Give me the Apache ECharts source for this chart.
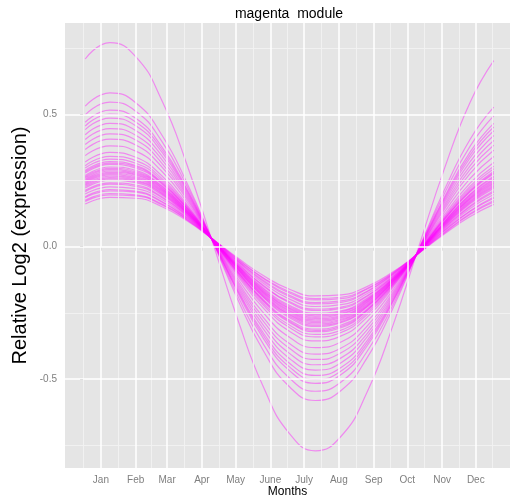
<!DOCTYPE html>
<html>
<head>
<meta charset="utf-8">
<title>magenta module</title>
<script src="https://cdn.jsdelivr.net/npm/echarts@6/dist/echarts.min.js"></script>
<style>
  html, body { margin: 0; padding: 0; background: #fff; }
  #chart { width: 511px; height: 497px; }
</style>
</head>
<body>
<div id="chart"></div>
<script>
const sampleDays = [1, 23, 46, 69, 92, 115, 137, 160, 183, 206, 229, 252, 275, 298, 321, 344, 365];

// axis breaks (mid-month) and their labels
const monthDays = [15, 46, 74, 105, 135, 166, 196, 227, 258, 288, 319, 349];
const monthLabels = ['Jan', 'Feb', 'Mar', 'Apr', 'May', 'June', 'July', 'Aug', 'Sep', 'Oct', 'Nov', 'Dec'];
const minorDays = [-0.5, 30.5, 60, 89.5, 120, 150.5, 181, 211.5, 242.5, 273, 303.5, 334, 364];
const yTicks = [-0.5, 0, 0.5];
const yMinor = [-0.75, -0.25, 0.25, 0.75];

// relative log2 expression of each gene in the module, one row per gene
const genes = [
  [0.709, 0.771, 0.718, 0.555, 0.306, 0.010, -0.276, -0.532, -0.706, -0.771, -0.716, -0.551, -0.300, -0.003, 0.294, 0.546, 0.703],
  [0.531, 0.581, 0.544, 0.424, 0.238, 0.016, -0.200, -0.395, -0.529, -0.581, -0.543, -0.421, -0.234, -0.011, 0.214, 0.406, 0.527],
  [0.498, 0.546, 0.512, 0.400, 0.226, 0.017, -0.186, -0.370, -0.496, -0.546, -0.511, -0.397, -0.222, -0.012, 0.200, 0.380, 0.494],
  [0.470, 0.516, 0.485, 0.379, 0.215, 0.018, -0.174, -0.348, -0.468, -0.516, -0.483, -0.376, -0.211, -0.013, 0.187, 0.358, 0.466],
  [0.456, 0.501, 0.471, 0.369, 0.210, 0.018, -0.168, -0.337, -0.454, -0.501, -0.470, -0.366, -0.206, -0.014, 0.181, 0.347, 0.452],
  [0.442, 0.486, 0.457, 0.359, 0.204, 0.018, -0.163, -0.327, -0.440, -0.486, -0.456, -0.356, -0.201, -0.014, 0.174, 0.336, 0.438],
  [0.423, 0.466, 0.439, 0.345, 0.197, 0.019, -0.155, -0.312, -0.422, -0.466, -0.438, -0.342, -0.194, -0.015, 0.166, 0.321, 0.420],
  [0.405, 0.446, 0.421, 0.331, 0.190, 0.020, -0.147, -0.298, -0.403, -0.446, -0.420, -0.329, -0.187, -0.016, 0.157, 0.306, 0.401],
  [0.386, 0.426, 0.403, 0.317, 0.183, 0.020, -0.139, -0.283, -0.384, -0.426, -0.401, -0.315, -0.180, -0.017, 0.149, 0.292, 0.383],
  [0.367, 0.406, 0.384, 0.303, 0.176, 0.021, -0.131, -0.269, -0.366, -0.406, -0.383, -0.301, -0.173, -0.017, 0.141, 0.277, 0.364],
  [0.344, 0.381, 0.361, 0.286, 0.167, 0.022, -0.121, -0.251, -0.342, -0.381, -0.360, -0.284, -0.164, -0.018, 0.130, 0.258, 0.341],
  [0.320, 0.356, 0.338, 0.269, 0.158, 0.022, -0.111, -0.233, -0.319, -0.356, -0.337, -0.267, -0.155, -0.019, 0.120, 0.240, 0.318],
  [0.306, 0.341, 0.325, 0.259, 0.152, 0.023, -0.105, -0.222, -0.305, -0.341, -0.324, -0.257, -0.150, -0.020, 0.113, 0.229, 0.304],
  [0.297, 0.331, 0.315, 0.252, 0.149, 0.023, -0.101, -0.215, -0.296, -0.331, -0.315, -0.250, -0.146, -0.020, 0.109, 0.221, 0.294],
  [0.288, 0.321, 0.306, 0.245, 0.145, 0.023, -0.097, -0.208, -0.286, -0.321, -0.306, -0.243, -0.143, -0.021, 0.105, 0.214, 0.285],
  [0.283, 0.316, 0.302, 0.241, 0.144, 0.024, -0.095, -0.204, -0.282, -0.316, -0.301, -0.240, -0.141, -0.021, 0.103, 0.210, 0.280],
  [0.278, 0.311, 0.297, 0.238, 0.142, 0.024, -0.093, -0.201, -0.277, -0.311, -0.296, -0.236, -0.139, -0.021, 0.101, 0.207, 0.276],
  [0.269, 0.301, 0.288, 0.231, 0.138, 0.024, -0.089, -0.193, -0.268, -0.301, -0.287, -0.229, -0.136, -0.021, 0.096, 0.199, 0.267],
  [0.264, 0.296, 0.283, 0.228, 0.136, 0.024, -0.087, -0.190, -0.263, -0.296, -0.283, -0.226, -0.134, -0.022, 0.094, 0.196, 0.262],
  [0.260, 0.291, 0.279, 0.224, 0.135, 0.024, -0.085, -0.186, -0.258, -0.291, -0.278, -0.223, -0.132, -0.022, 0.092, 0.192, 0.257],
  [0.255, 0.286, 0.274, 0.221, 0.133, 0.024, -0.083, -0.183, -0.254, -0.286, -0.274, -0.219, -0.131, -0.022, 0.090, 0.188, 0.253],
  [0.250, 0.281, 0.270, 0.217, 0.131, 0.025, -0.081, -0.179, -0.249, -0.281, -0.269, -0.216, -0.129, -0.022, 0.088, 0.184, 0.248],
  [0.246, 0.276, 0.265, 0.214, 0.129, 0.025, -0.079, -0.175, -0.244, -0.276, -0.264, -0.212, -0.127, -0.022, 0.086, 0.181, 0.243],
  [0.241, 0.271, 0.261, 0.210, 0.127, 0.025, -0.077, -0.172, -0.240, -0.271, -0.260, -0.209, -0.125, -0.023, 0.084, 0.177, 0.239],
  [0.236, 0.266, 0.256, 0.207, 0.126, 0.025, -0.075, -0.168, -0.235, -0.266, -0.255, -0.205, -0.124, -0.023, 0.082, 0.173, 0.234],
  [0.232, 0.261, 0.251, 0.203, 0.124, 0.025, -0.073, -0.165, -0.231, -0.261, -0.251, -0.202, -0.122, -0.023, 0.080, 0.170, 0.229],
  [0.227, 0.256, 0.247, 0.200, 0.122, 0.025, -0.071, -0.161, -0.226, -0.256, -0.246, -0.199, -0.120, -0.023, 0.077, 0.166, 0.225],
  [0.222, 0.251, 0.242, 0.196, 0.120, 0.026, -0.069, -0.157, -0.221, -0.251, -0.242, -0.195, -0.118, -0.023, 0.075, 0.162, 0.220],
  [0.213, 0.241, 0.233, 0.190, 0.117, 0.026, -0.065, -0.150, -0.212, -0.241, -0.233, -0.188, -0.115, -0.024, 0.071, 0.155, 0.211],
  [0.208, 0.236, 0.228, 0.186, 0.115, 0.026, -0.063, -0.147, -0.207, -0.236, -0.228, -0.185, -0.113, -0.024, 0.069, 0.151, 0.206],
  [0.199, 0.226, 0.219, 0.179, 0.111, 0.026, -0.059, -0.139, -0.198, -0.226, -0.219, -0.178, -0.110, -0.024, 0.065, 0.144, 0.197],
  [0.189, 0.216, 0.210, 0.172, 0.108, 0.027, -0.055, -0.132, -0.189, -0.216, -0.210, -0.171, -0.106, -0.025, 0.061, 0.136, 0.188],
  [0.185, 0.211, 0.206, 0.169, 0.106, 0.027, -0.053, -0.128, -0.184, -0.211, -0.205, -0.168, -0.104, -0.025, 0.059, 0.133, 0.183],
  [0.175, 0.201, 0.196, 0.162, 0.102, 0.027, -0.049, -0.121, -0.175, -0.201, -0.196, -0.161, -0.101, -0.025, 0.054, 0.125, 0.174],
  [0.171, 0.196, 0.192, 0.159, 0.101, 0.027, -0.047, -0.118, -0.170, -0.196, -0.191, -0.158, -0.099, -0.025, 0.052, 0.122, 0.169],
  [0.161, 0.186, 0.183, 0.152, 0.097, 0.027, -0.043, -0.110, -0.161, -0.186, -0.182, -0.151, -0.096, -0.026, 0.048, 0.114, 0.160]
];

const FONT = 'Liberation Sans, Arial, sans-serif';
const chart = echarts.init(document.getElementById('chart'), null, { renderer: 'canvas' });

// white grid lines on the grey panel (ggplot look)
const minorStyle = { color: '#F2F2F2', width: 0.9, type: 'solid' };
const majorStyle = { color: '#FFFFFF', width: 1.5, type: 'solid' };
const gridLines = [];
minorDays.forEach(d => gridLines.push({ xAxis: d, lineStyle: minorStyle }));
yMinor.forEach(v => gridLines.push({ yAxis: v, lineStyle: minorStyle }));
monthDays.forEach(d => gridLines.push({ xAxis: d, lineStyle: majorStyle }));
yTicks.forEach(v => gridLines.push({ yAxis: v, lineStyle: majorStyle }));

const series = [{
  type: 'line',
  data: [],
  silent: true,
  z: 1,
  markLine: {
    silent: true,
    symbol: ['none', 'none'],
    label: { show: false },
    emphasis: { disabled: true },
    animation: false,
    data: gridLines
  }
}];

genes.forEach((vals, i) => {
  series.push({
    name: 'gene' + (i + 1),
    type: 'line',
    z: 3,
    smooth: 0.5,
    showSymbol: false,
    silent: true,
    data: sampleDays.map((d, k) => [d, vals[k]]),
    lineStyle: { color: 'rgba(255, 0, 255, 0.4)', width: 1.2 }
  });
});

const option = {
  animation: false,
  backgroundColor: '#ffffff',
  title: {
    text: 'magenta  module',
    left: 289,
    top: 7,
    textAlign: 'center',
    padding: 0,
    textStyle: { fontFamily: FONT, fontSize: 14, fontWeight: 'normal', color: '#000' }
  },
  grid: {
    left: 65,
    right: 1,
    top: 23,
    bottom: 29,
    outerBoundsMode: 'none',
    show: true,
    backgroundColor: '#E5E5E5',
    borderWidth: 0
  },
  xAxis: {
    type: 'value',
    min: -17,
    max: 379.5,
    name: 'Months',
    nameLocation: 'middle',
    nameGap: 18,
    nameMoveOverlap: false,
    nameTextStyle: { fontFamily: FONT, fontSize: 12, color: '#000' },
    axisLine: { show: false },
    axisTick: { show: true, length: 4, customValues: monthDays, lineStyle: { color: '#7F7F7F' } },
    axisLabel: {
      customValues: monthDays,
      margin: 7,
      fontFamily: FONT,
      fontSize: 10,
      color: '#7F7F7F',
      formatter: v => monthLabels[monthDays.indexOf(v)]
    },
    splitLine: { show: false }
  },
  yAxis: {
    type: 'value',
    min: -0.836,
    max: 0.845,
    name: 'Relative Log2 (expression)',
    nameLocation: 'middle',
    nameRotate: 90,
    nameGap: 35,
    nameMoveOverlap: false,
    nameTextStyle: { fontFamily: FONT, fontSize: 20, color: '#000' },
    axisLine: { show: false },
    axisTick: { show: true, length: 4, customValues: yTicks, lineStyle: { color: '#7F7F7F' } },
    axisLabel: {
      customValues: yTicks,
      margin: 8,
      fontFamily: FONT,
      fontSize: 10,
      color: '#7F7F7F',
      formatter: v => v.toFixed(1)
    },
    splitLine: { show: false }
  },
  series: series
};

chart.setOption(option);
</script>
</body>
</html>
